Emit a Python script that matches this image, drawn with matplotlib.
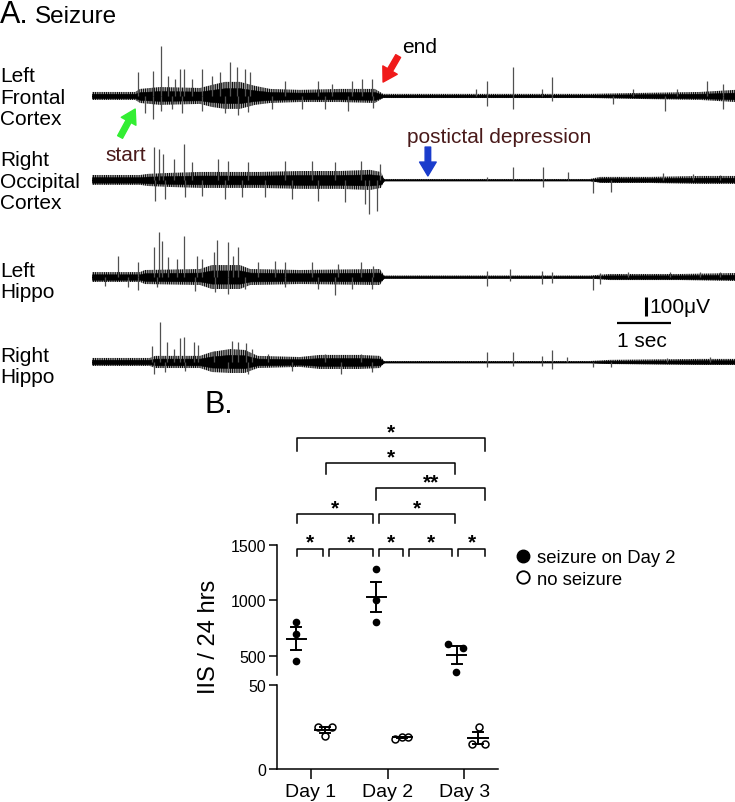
import numpy as np
import matplotlib
matplotlib.use("Agg")
import matplotlib.pyplot as plt
from matplotlib.lines import Line2D

plt.rcParams['font.family'] = ['Liberation Sans', 'DejaVu Sans']
plt.rcParams['hatch.linewidth'] = 0.9
plt.rcParams['hatch.color'] = 'black'

# ---------------- Panel A data (time in s, amplitude in uV) ----------------
trace_names = ["Left\nFrontal\nCortex", "Right\nOccipital\nCortex", "Left\nHippo", "Right\nHippo"]

lfc_env_t = [0, 0.80, 0.89, 1.26, 2.00, 2.22, 2.46, 2.74, 3.02, 3.30, 3.85, 4.59, 5.24, 5.39, 9.22, 10.15, 11.26, 11.91]
lfc_env_up = [21, 21, 37, 47, 42, 58, 74, 74, 53, 37, 32, 37, 37, 11, 11, 16, 21, 32]
lfc_env_dn = [21, 21, 37, 47, 42, 58, 68, 68, 47, 37, 32, 32, 37, 11, 11, 16, 21, 32]
lfc_spk_up = [(0.85, 126), (1.13, 132), (1.28, 263), (1.40, 105), (1.54, 89), (1.63, 142), (1.70, 142),
              (1.85, 89), (2.03, 142), (2.22, 105), (2.37, 126), (2.56, 179), (2.68, 153), (2.83, 142),
              (2.93, 126), (3.57, 79), (4.19, 79), (4.44, 63), (4.81, 79), (5.00, 89), (5.19, 89),
              (7.12, 37), (7.31, 79), (7.79, 153), (8.33, 37), (8.51, 100), (10.02, 37), (10.83, 37),
              (11.38, 79), (11.69, 63)]
lfc_spk_dn = [(0.98, 89), (1.13, 121), (1.28, 79), (1.48, 68), (1.66, 89), (2.03, 79), (2.46, 89),
              (2.70, 100), (2.89, 84), (3.33, 68), (3.88, 68), (4.31, 68), (4.74, 79), (5.20, 63),
              (7.31, 53), (7.79, 68), (8.51, 26), (9.65, 42), (10.61, 79), (11.69, 68)]

roc_env_t = [0, 0.89, 1.04, 1.44, 2.00, 3.11, 3.85, 4.59, 5.15, 5.35, 5.41, 9.22, 9.41, 10.33, 11.26, 11.91]
roc_env_up = [26, 26, 32, 37, 42, 42, 47, 47, 53, 42, 5, 5, 16, 16, 21, 21]
roc_env_dn = [26, 26, 32, 37, 42, 42, 47, 47, 53, 42, 5, 5, 16, 16, 21, 21]
roc_spk_up = [(1.15, 174), (1.24, 163), (1.31, 137), (1.52, 111), (1.70, 189), (1.85, 95), (2.33, 111),
              (2.52, 100), (2.89, 95), (3.57, 100), (4.07, 100), (4.50, 95), (4.99, 100), (5.33, 84),
              (7.31, 16), (7.79, 68), (8.35, 68), (8.81, 42), (10.57, 37), (11.13, 32), (11.63, 26)]
roc_spk_dn = [(1.17, 111), (1.35, 100), (1.72, 89), (2.03, 84), (2.46, 100), (2.77, 89), (3.20, 89),
              (3.70, 100), (4.19, 111), (4.69, 116), (5.06, 126), (5.13, 179), (5.27, 163),
              (8.35, 37), (9.27, 68), (9.61, 63)]

lh_env_t = [0, 0.89, 0.98, 2.00, 2.22, 2.74, 2.93, 3.85, 5.33, 5.41, 9.22, 9.59, 10.89, 11.91]
lh_env_up = [26, 26, 37, 42, 63, 63, 42, 37, 42, 8, 8, 16, 16, 21]
lh_env_dn = [26, 26, 37, 42, 63, 63, 42, 37, 42, 8, 8, 16, 16, 21]
lh_spk_up = [(0.49, 111), (0.86, 79), (1.15, 158), (1.24, 237), (1.29, 189), (1.41, 105), (1.57, 95),
             (1.71, 216), (1.94, 111), (2.03, 95), (2.25, 132), (2.32, 195), (2.51, 184), (2.62, 111),
             (2.71, 158), (3.08, 79), (3.39, 84), (3.57, 79), (4.07, 79), (4.56, 68), (4.99, 79),
             (5.20, 58), (7.31, 32), (7.74, 42), (8.33, 32), (8.51, 26), (9.41, 21), (9.93, 26),
             (10.70, 26), (11.26, 26), (11.63, 26)]
lh_spk_dn = [(0.24, 47), (0.66, 53), (0.86, 68), (1.20, 53), (1.91, 74), (2.28, 79), (2.52, 89),
             (2.83, 63), (3.57, 53), (4.19, 63), (4.50, 95), (4.81, 63), (5.18, 63), (7.31, 47),
             (7.74, 21), (8.33, 37), (8.51, 32), (9.27, 68), (9.41, 37)]

rh_env_t = [0, 1.07, 1.17, 2.00, 2.22, 2.56, 2.83, 3.07, 3.85, 4.22, 4.96, 5.33, 5.41, 9.22, 9.59, 11.26, 11.91]
rh_env_up = [21, 21, 32, 32, 53, 68, 63, 32, 26, 37, 37, 32, 5, 5, 11, 16, 16]
rh_env_dn = [21, 21, 32, 32, 53, 58, 58, 32, 26, 37, 37, 32, 5, 5, 11, 16, 16]
rh_spk_up = [(1.12, 84), (1.26, 211), (1.38, 105), (1.51, 68), (1.63, 126), (1.70, 132), (1.88, 105),
             (1.97, 89), (2.25, 58), (2.59, 111), (2.71, 105), (2.86, 100), (2.96, 68), (3.26, 42),
             (4.31, 42), (4.99, 42), (7.31, 53), (7.79, 53), (8.33, 32), (8.51, 63), (8.79, 26),
             (10.64, 21), (11.44, 26)]
rh_spk_dn = [(1.15, 63), (1.35, 53), (1.72, 47), (2.52, 47), (2.89, 63), (3.70, 47), (4.62, 63),
             (5.18, 53), (7.31, 26), (7.79, 21), (8.33, 21), (8.51, 37), (9.27, 26), (9.61, 26)]

# ---------------- Panel B data ----------------
days = ["Day 1", "Day 2", "Day 3"]
seiz_x = [[0.81, 0.81, 0.81], [1.85, 1.85, 1.85], [2.79, 2.98, 2.89]]
seiz_v = [[806, 695, 455], [1281, 1000, 806], [605, 566, 350]]
seiz_center = [0.81, 1.85, 2.90]
nos_x = [[1.09, 1.27, 1.18], [2.10, 2.19, 2.27], [3.19, 3.10, 3.27]]
nos_v = [[24.7, 25.1, 19.8], [17.8, 19.2, 19.2], [25.1, 14.8, 14.8]]
nos_center = [1.18, 2.19, 3.18]
# brackets: (x1, x2, line y, drop-end y, label)
brackets = [
    (0.813, 1.161, 1465, 1404, "*"), (1.240, 1.806, 1465, 1404, "*"),
    (1.885, 2.198, 1465, 1404, "*"), (2.277, 2.843, 1465, 1404, "*"),
    (2.922, 3.275, 1465, 1404, "*"),
    (0.813, 1.806, 1781, 1700, "*"), (1.885, 2.882, 1781, 1700, "*"),
    (1.850, 3.275, 2014, 1908, "**"),
    (1.196, 2.882, 2240, 2143, "*"),
    (0.813, 3.275, 2466, 2354, "*"),
]

# ---------------- Figure ----------------
W, H = 735, 803
fig = plt.figure(figsize=(W / 100, H / 100), dpi=100)

def fx(px):
    return px / W

def fy(py):
    return 1 - py / H

axA = fig.add_axes([fx(92), fy(400), fx(735 - 92), (400 - 20) / H])
axA.set_xlim(0, 11.907)
axA.set_ylim(0, 2000)
axA.axis('off')

CORE = 0.55  # fraction of the envelope drawn as solid core
offsets = [1595, 1153, 642, 195]
traces = [
    (lfc_env_t, lfc_env_up, lfc_env_dn, lfc_spk_up, lfc_spk_dn),
    (roc_env_t, roc_env_up, roc_env_dn, roc_spk_up, roc_spk_dn),
    (lh_env_t, lh_env_up, lh_env_dn, lh_spk_up, lh_spk_dn),
    (rh_env_t, rh_env_up, rh_env_dn, rh_spk_up, rh_spk_dn),
]
for off, (et, eu, ed, su, sd) in zip(offsets, traces):
    et = np.array(et)
    eu = np.array(eu, dtype=float)
    ed = np.array(ed, dtype=float)
    axA.fill_between(et, off + eu, off - ed, facecolor='none', edgecolor='#111111',
                     hatch='|' * 9, lw=0)
    axA.fill_between(et, off + CORE * eu, off - CORE * ed, color='black', lw=0.4)
    axA.plot(et, np.full(len(et), off), color='black', lw=1.0)
    su = np.array(su)
    sd = np.array(sd)
    axA.vlines(su[:, 0], off, off + su[:, 1], color='#505050', lw=0.9)
    axA.vlines(sd[:, 0], off - sd[:, 1], off, color='#505050', lw=0.9)

label_centers = [98, 182, 282, 367]
for name, cy in zip(trace_names, label_centers):
    fig.text(0.0, fy(cy), name, fontsize=15, va='center', ha='left', linespacing=1.18)

fig.text(0.0, fy(15), "A.", fontsize=22, va='center', ha='left')
fig.text(fx(35), fy(17), "Seizure", fontsize=17.5, va='center', ha='left')

maroon = '#4a1a1a'
arrow_kw = dict(width=4, headwidth=12, headlength=10, shrink=0)
axA.annotate('', xy=(0.80, 1526), xytext=(0.52, 1379),
             arrowprops=dict(facecolor='#33ee33', edgecolor='#33ee33', **arrow_kw))
axA.annotate('', xy=(5.39, 1668), xytext=(5.67, 1805),
             arrowprops=dict(facecolor='#f01a1a', edgecolor='#f01a1a', **arrow_kw))
axA.annotate('', xy=(6.22, 1174), xytext=(6.22, 1326),
             arrowprops=dict(facecolor='#1a3ccc', edgecolor='#1a3ccc', **arrow_kw))
axA.text(0.24, 1289, "start", fontsize=15, color=maroon, va='center', ha='left')
axA.text(5.74, 1853, "end", fontsize=15, color='black', va='center', ha='left')
axA.text(5.83, 1379, "postictal depression", fontsize=15, color=maroon, va='center', ha='left')

# scale bars
axA.plot([10.26, 10.26], [437, 537], color='black', lw=2.2, solid_capstyle='butt')
axA.plot([9.72, 10.72], [400, 400], color='black', lw=1.6, solid_capstyle='butt')
axA.text(10.33, 487, "100\u03bcV", fontsize=15, va='center', ha='left')
axA.text(9.72, 310, "1 sec", fontsize=15, va='center', ha='left')

# ---------------- Panel B ----------------
left, right = 277, 498
axU = fig.add_axes([fx(left), fy(676), fx(right - left), (676 - 420) / H])
axL = fig.add_axes([fx(left), fy(770), fx(right - left), (770 - 685.7) / H])

for ax in (axU, axL):
    ax.set_xlim(0.556, 3.44)
    ax.patch.set_alpha(0)
    for s in ('top', 'right'):
        ax.spines[s].set_visible(False)
    ax.spines['left'].set_linewidth(1.1)
    ax.spines['bottom'].set_linewidth(1.1)
    ax.tick_params(width=1.1, length=6, labelsize=11.5, pad=2)

axU.set_ylim(326, 2640)
axU.spines['left'].set_bounds(326, 1500)
axU.spines['bottom'].set_visible(False)
axU.set_yticks([500, 1000, 1500])
axU.set_xticks([])

axL.set_ylim(0, 50)
axL.set_yticks([0, 50])
axL.set_xticks([1, 2, 3])
axL.set_xticklabels(days, fontsize=14)
axL.tick_params(axis='x', length=7, pad=3)

mw, cw = 0.125, 0.065
for xs, vs, c in zip(seiz_x, seiz_v, seiz_center):
    vs = np.array(vs)
    m = vs.mean()
    sem = vs.std(ddof=1) / np.sqrt(len(vs))
    axU.plot(xs, vs, 'o', color='black', ms=4.5, zorder=3, clip_on=False)
    axU.plot([c - mw, c + mw], [m, m], color='black', lw=1.4, zorder=4)
    axU.plot([c, c], [m - sem, m + sem], color='black', lw=1.4, zorder=4)
    for e in (m - sem, m + sem):
        axU.plot([c - cw, c + cw], [e, e], color='black', lw=1.4, zorder=4)

for xs, vs, c in zip(nos_x, nos_v, nos_center):
    vs = np.array(vs)
    m = vs.mean()
    sem = vs.std(ddof=1) / np.sqrt(len(vs))
    axL.plot(xs, vs, 'o', mfc='white', mec='black', mew=1.1, ms=5, zorder=3)
    axL.plot([c - mw, c + mw], [m, m], color='black', lw=1.4, zorder=4)
    axL.plot([c, c], [m - sem, m + sem], color='black', lw=1.4, zorder=4)
    for e in (m - sem, m + sem):
        axL.plot([c - cw, c + cw], [e, e], color='black', lw=1.4, zorder=4)

for x1, x2, y, yd, lab in brackets:
    axU.plot([x1, x1, x2, x2], [yd, y, y, yd], color='black', lw=1.1, clip_on=False)
    axU.text((x1 + x2) / 2, y + 10, lab, fontsize=15, ha='center', va='baseline',
             fontweight='bold')

fig.text(fx(205), fy(405), "B.", fontsize=22, va='center', ha='left')
fig.text(fx(209), fy(637), "IIS / 24 hrs", fontsize=17, rotation=90, va='center', ha='center')

handles = [Line2D([], [], ls='none', marker='o', color='black', ms=9),
           Line2D([], [], ls='none', marker='o', mfc='white', mec='black', mew=1.3, ms=9)]
fig.legend(handles, ["seizure on Day 2", "no seizure"], loc='upper left',
           bbox_to_anchor=(fx(512), fy(550)), frameon=False, fontsize=13.3,
           handletextpad=0.15, handlelength=1.2, labelspacing=0.25, borderaxespad=0, borderpad=0)

fig.savefig("out.png", dpi=100)
